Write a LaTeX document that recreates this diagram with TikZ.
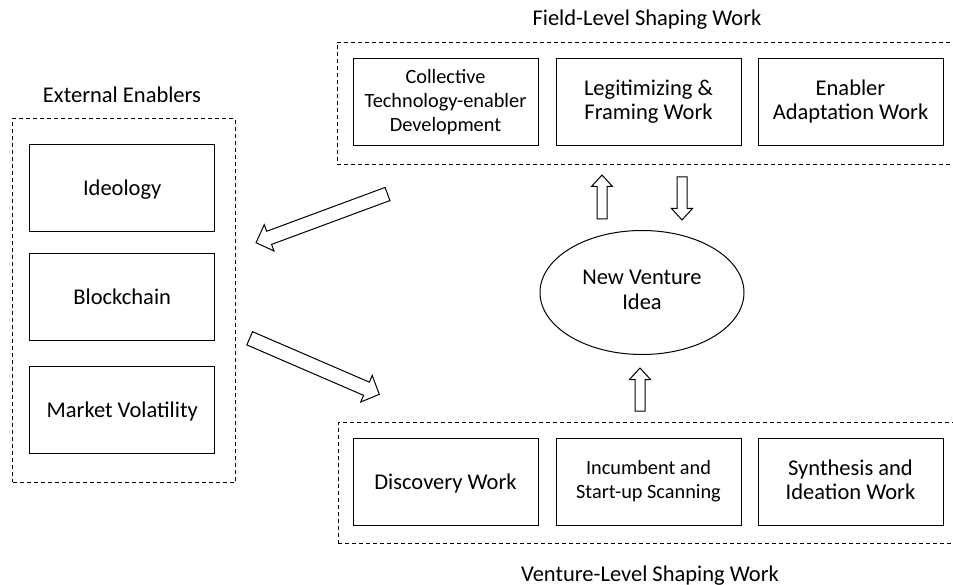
\documentclass[tikz,border=0pt]{standalone}
\usepackage{fontspec}
\setmainfont{Carlito}
\usetikzlibrary{calc,shapes.geometric}

% struts that give every label the same top and bottom extent
\newcommand\labeltop{\rule{0pt}{20pt}}
\newcommand\labelbottom{\rule[-5pt]{0pt}{5pt}}

\tikzset{
  labelstruts/.style={execute at begin node=\labeltop, execute at end node=\labelbottom},
  box/.style={draw, line width=1pt, minimum width=185pt, minimum height=87pt,
    inner sep=2pt, align=center, font=\fontsize{22.5}{24}\selectfont, labelstruts},
  smalltext/.style={font=\fontsize{20.3}{24}\selectfont},
  groupbox/.style={draw, line width=0.9pt, dash pattern=on 4pt off 3pt, inner sep=0pt},
  grouptitle/.style={anchor=base, inner sep=0pt, font=\fontsize{22.5}{24}\selectfont},
  ideanode/.style={ellipse, draw, line width=1pt, minimum width=204pt,
    minimum height=124pt, inner sep=0pt, align=center,
    font=\fontsize{22.5}{25.5}\selectfont, labelstruts},
  blockarrowline/.style={draw, fill=white, line width=1pt, line join=miter},
}

% Hollow block arrow: #1 tail, #2 tip, #3 shaft half-width,
% #4 head half-width, #5 head length
\newcommand\blockarrow[5]{%
  \coordinate (ba-neck) at ($(#2)!#5!(#1)$);
  \draw[blockarrowline]
    ($(#1)!#3!90:(#2)$) -- ($(ba-neck)!#3!-90:(#1)$)
    -- ($(ba-neck)!#4!-90:(#1)$) -- (#2)
    -- ($(ba-neck)!#4!90:(#1)$) -- ($(ba-neck)!#3!90:(#1)$)
    -- ($(#1)!#3!-90:(#2)$) -- cycle;
}

\begin{document}
\begin{tikzpicture}[x=1pt,y=-1pt]
\useasboundingbox (0,0) rectangle (953,585);
\clip (0,0) rectangle (953,585);
\fill[white] (0,0) rectangle (953,585);

% group frames (the two right-hand frames run past the right margin)
\node[groupbox, minimum width=222.3pt, minimum height=364pt] (extgroup) at (123.9,300.3) {};
\node[groupbox, minimum width=638pt, minimum height=121.3pt] (fieldgroup) at (656,103.4) {};
\node[groupbox, minimum width=636.7pt, minimum height=121pt] (venturegroup) at (656.65,483.1) {};

% group titles
\node[grouptitle] (exttitle) at (122,102.7) {External Enablers};
\node[grouptitle] (fieldtitle) at (647,26) {Field-Level Shaping Work};
\node[grouptitle] (venturetitle) at (650,581) {Venture-Level Shaping Work};

% external enablers
\node[box] (ideology) at (122.2,187.7) {Ideology};
\node[box] (blockchain) at (122.2,296.7) {Blockchain};
\node[box] (volatility) at (122.2,409.7) {Market Volatility};

% field-level work
\node[box, smalltext] (collective) at (445.5,102.5) {Collective\\Technology-enabler\\Development};
\node[box] (legit) at (648.5,102.5) {Legitimizing \&\\Framing Work};
\node[box] (adapt) at (850.5,102.5) {Enabler\\Adaptation Work};

% venture-level work
\node[box] (discovery) at (445.5,482.4) {Discovery Work};
\node[box, smalltext] (scanning) at (648.5,482.4) {Incumbent and\\Start-up Scanning};
\node[box] (synthesis) at (850.5,482.4) {Synthesis and\\Ideation Work};

% new venture idea
\node[ideanode] (idea) at (642,292.5) {New Venture\\Idea};

% arrow end points
\coordinate (upA-tail) at (602,219);
\coordinate (upA-tip) at (602,175);
\coordinate (downA-tail) at (682,177);
\coordinate (downA-tip) at (682,220);
\coordinate (upB-tail) at (640,411);
\coordinate (upB-tip) at (640,368);
\coordinate (toext-tail) at (387.5,194);
\coordinate (toext-tip) at (256,242.7);
\coordinate (fromext-tail) at (249.7,338.3);
\coordinate (fromext-tip) at (379.3,394.3);

\blockarrow{upA-tail}{upA-tip}{5pt}{10.5pt}{11.5pt}
\blockarrow{downA-tail}{downA-tip}{5pt}{10.5pt}{11.5pt}
\blockarrow{upB-tail}{upB-tip}{5pt}{10.5pt}{11.5pt}
\blockarrow{toext-tail}{toext-tip}{7pt}{14pt}{14pt}
\blockarrow{fromext-tail}{fromext-tip}{7.2pt}{14.5pt}{14pt}
\end{tikzpicture}
\end{document}
